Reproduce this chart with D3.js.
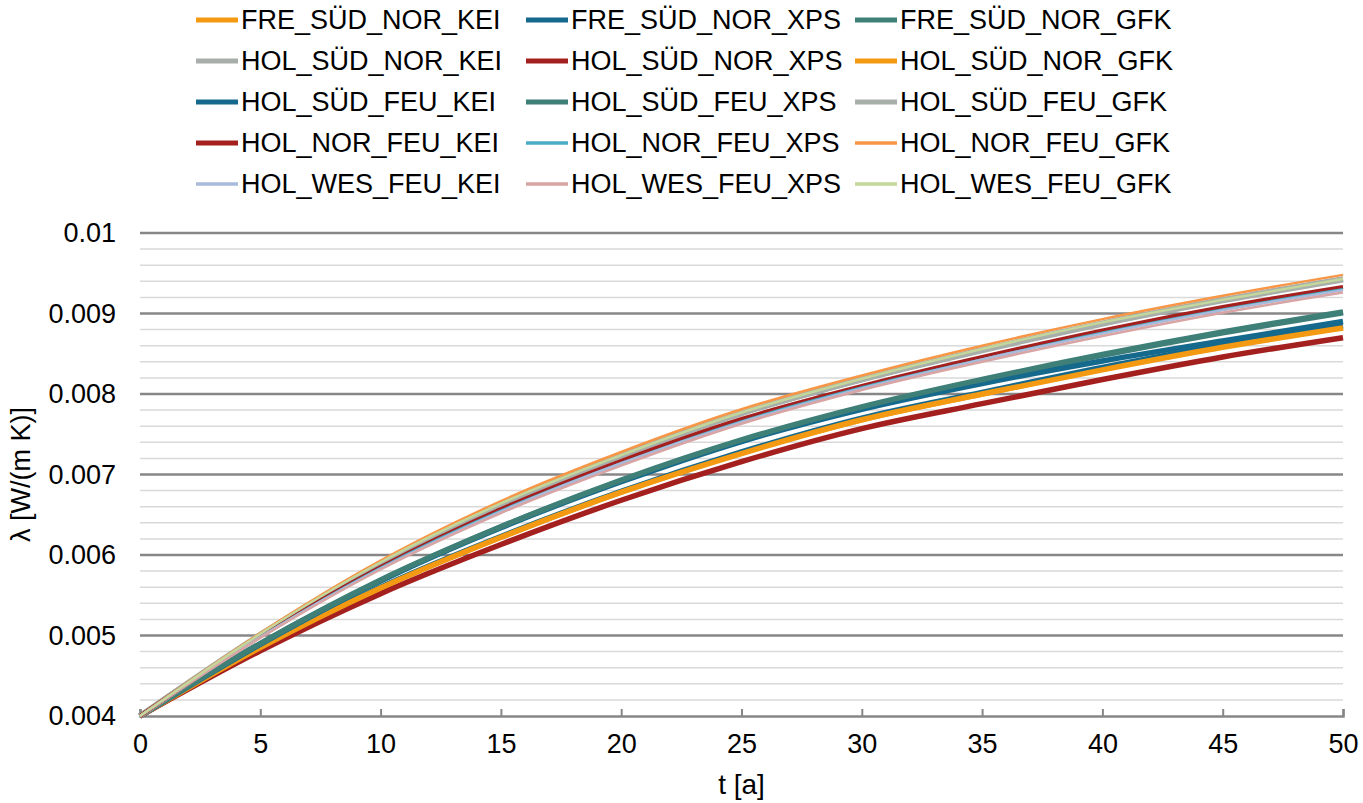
<!doctype html>
<html>
<head>
<meta charset="utf-8">
<title>Lambda over time</title>
<script src="https://d3js.org/d3.v7.min.js"></script>
<style>
  body { margin: 0; background: #fff; }
  text { font-family: "Liberation Sans", Arial, sans-serif; fill: #000; }
</style>
</head>
<body>
<script>
// t [a]
var years = [0, 5, 10, 15, 20, 25, 30, 35, 40, 45, 50];

// lambda values (W/(m K))
var freSudNorKei = [0.00400, 0.00485, 0.00559, 0.00622, 0.00678, 0.00727, 0.00768, 0.00800, 0.00831, 0.00859, 0.00883];
var freSudNorXps = [0.00400, 0.00485, 0.00560, 0.00623, 0.00679, 0.00728, 0.00770, 0.00802, 0.00833, 0.00861, 0.00885];
var freSudNorGfk = [0.00400, 0.00490, 0.00568, 0.00635, 0.00692, 0.00742, 0.00783, 0.00817, 0.00848, 0.00876, 0.00901];
var holSudNorKei = [0.00400, 0.00501, 0.00590, 0.00663, 0.00723, 0.00776, 0.00818, 0.00854, 0.00887, 0.00916, 0.00942];
var holSudNorXps = [0.00400, 0.00481, 0.00552, 0.00613, 0.00668, 0.00716, 0.00757, 0.00788, 0.00818, 0.00846, 0.00870];
var holSudNorGfk = [0.00400, 0.00485, 0.00559, 0.00622, 0.00678, 0.00726, 0.00768, 0.00800, 0.00830, 0.00858, 0.00882];
var holSudFeuKei = [0.00400, 0.00489, 0.00568, 0.00634, 0.00691, 0.00741, 0.00781, 0.00813, 0.00841, 0.00866, 0.00890];
var holSudFeuXps = [0.00400, 0.00490, 0.00569, 0.00635, 0.00693, 0.00743, 0.00784, 0.00818, 0.00849, 0.00877, 0.00902];
var holSudFeuGfk = [0.00400, 0.00501, 0.00590, 0.00663, 0.00724, 0.00776, 0.00818, 0.00855, 0.00888, 0.00917, 0.00943];
var holNorFeuKei = [0.00400, 0.00499, 0.00585, 0.00657, 0.00717, 0.00769, 0.00810, 0.00846, 0.00879, 0.00908, 0.00933];
var holNorFeuXps = [0.00400, 0.00498, 0.00584, 0.00655, 0.00714, 0.00766, 0.00808, 0.00843, 0.00876, 0.00905, 0.00930];
var holNorFeuGfk = [0.00400, 0.00503, 0.00593, 0.00667, 0.00728, 0.00781, 0.00823, 0.00860, 0.00893, 0.00922, 0.00948];
var holWesFeuKei = [0.00400, 0.00498, 0.00583, 0.00654, 0.00714, 0.00765, 0.00807, 0.00843, 0.00875, 0.00904, 0.00929];
var holWesFeuXps = [0.00400, 0.00497, 0.00582, 0.00652, 0.00711, 0.00763, 0.00805, 0.00840, 0.00872, 0.00901, 0.00926];
var holWesFeuGfk = [0.00400, 0.00502, 0.00591, 0.00664, 0.00724, 0.00777, 0.00819, 0.00856, 0.00889, 0.00917, 0.00943];

var names = ["FRE_SÜD_NOR_KEI", "FRE_SÜD_NOR_XPS", "FRE_SÜD_NOR_GFK",
             "HOL_SÜD_NOR_KEI", "HOL_SÜD_NOR_XPS", "HOL_SÜD_NOR_GFK",
             "HOL_SÜD_FEU_KEI", "HOL_SÜD_FEU_XPS", "HOL_SÜD_FEU_GFK",
             "HOL_NOR_FEU_KEI", "HOL_NOR_FEU_XPS", "HOL_NOR_FEU_GFK",
             "HOL_WES_FEU_KEI", "HOL_WES_FEU_XPS", "HOL_WES_FEU_GFK"];
var values = [freSudNorKei, freSudNorXps, freSudNorGfk,
              holSudNorKei, holSudNorXps, holSudNorGfk,
              holSudFeuKei, holSudFeuXps, holSudFeuGfk,
              holNorFeuKei, holNorFeuXps, holNorFeuGfk,
              holWesFeuKei, holWesFeuXps, holWesFeuGfk];

var xTicks = [0, 5, 10, 15, 20, 25, 30, 35, 40, 45, 50];
var yTicks = [0.004, 0.005, 0.006, 0.007, 0.008, 0.009, 0.01];

// look
var colors = ["#f39a12", "#15698c", "#3e7f78",
              "#a8aeaa", "#a3201f", "#f39a12",
              "#15698c", "#3e7f78", "#a8aeaa",
              "#a3201f", "#4bacc6", "#f79646",
              "#a9badb", "#d9a4a4", "#c3d69b"];
var widths = [5.5, 5.5, 5.5, 5.5, 5.5, 5.5, 5.5, 5.5, 5.5, 4, 2.5, 2.5, 2.5, 2.5, 2.5];

var W = 1363, H = 803;
var margin = {left: 140, right: 20, top: 233, bottom: 87};

var svg = d3.select("body").append("svg")
    .attr("width", W)
    .attr("height", H);

var x = d3.scaleLinear().domain([0, 50]).range([margin.left, W - margin.right]);
var y = d3.scaleLinear().domain([0.004, 0.01]).range([H - margin.bottom, margin.top]);

// minor gridlines
var minor = d3.range(0.004, 0.01 + 1e-9, 0.0002).filter(function(v) {
    return Math.abs(Math.round(v * 1000) - v * 1000) > 1e-6;
});
svg.append("g").selectAll("line")
    .data(minor)
    .enter().append("line")
    .attr("x1", x(0)).attr("x2", x(50))
    .attr("y1", function(d) { return y(d); })
    .attr("y2", function(d) { return y(d); })
    .attr("stroke", "#d9d9d9")
    .attr("stroke-width", 1.5);

// major gridlines
svg.append("g").selectAll("line")
    .data(yTicks.slice(1))
    .enter().append("line")
    .attr("x1", x(0)).attr("x2", x(50))
    .attr("y1", function(d) { return y(d); })
    .attr("y2", function(d) { return y(d); })
    .attr("stroke", "#878787")
    .attr("stroke-width", 2.5);

// y labels
svg.append("g").selectAll("text")
    .data(yTicks)
    .enter().append("text")
    .attr("x", 116)
    .attr("y", function(d) { return y(d); })
    .attr("dy", "0.35em")
    .attr("text-anchor", "end")
    .attr("font-size", 27)
    .text(function(d) { return d3.format("")(+d.toFixed(3)); });

// x axis
var xAxis = d3.axisBottom(x).tickValues(xTicks).tickSizeInner(-7).tickSizeOuter(-7).tickPadding(18);
var gx = svg.append("g")
    .attr("transform", "translate(0," + y(0.004) + ")")
    .call(xAxis);
gx.select(".domain").attr("stroke", "#878787").attr("stroke-width", 2.5);
gx.selectAll(".tick line").attr("stroke", "#878787").attr("stroke-width", 2);
gx.selectAll(".tick text")
    .attr("font-size", 27)
    .attr("font-family", "Liberation Sans, Arial, sans-serif")
    .attr("fill", "#000");

// lines
var line = d3.line()
    .x(function(d, i) { return x(years[i]); })
    .y(function(d) { return y(d); })
    .curve(d3.curveMonotoneX);

svg.append("g").selectAll("path")
    .data(values)
    .enter().append("path")
    .attr("d", line)
    .attr("fill", "none")
    .attr("stroke", function(d, i) { return colors[i]; })
    .attr("stroke-width", function(d, i) { return widths[i]; })
    .attr("stroke-linejoin", "round");

// axis titles
svg.append("text")
    .attr("x", x(25))
    .attr("y", 794)
    .attr("text-anchor", "middle")
    .attr("font-size", 28)
    .text("t [a]");

svg.append("text")
    .attr("transform", "translate(30," + y(0.007) + ") rotate(-90)")
    .attr("text-anchor", "middle")
    .attr("font-size", 27)
    .text("λ [W/(m K)]");

// legend
var colX = [196, 526, 855];
var rowY = [20, 61, 102, 143, 184];
var leg = svg.append("g").selectAll("g")
    .data(names)
    .enter().append("g")
    .attr("transform", function(d, i) {
        return "translate(" + colX[i % 3] + "," + rowY[Math.floor(i / 3)] + ")";
    });

leg.append("line")
    .attr("x1", 0).attr("x2", 42)
    .attr("stroke", function(d, i) { return colors[i]; })
    .attr("stroke-width", function(d, i) { return widths[i] > 3 ? 5 : 3.5; });

leg.append("text")
    .attr("x", 45)
    .attr("dy", "0.35em")
    .attr("font-size", 27)
    .text(function(d) { return d; });
</script>
</body>
</html>
